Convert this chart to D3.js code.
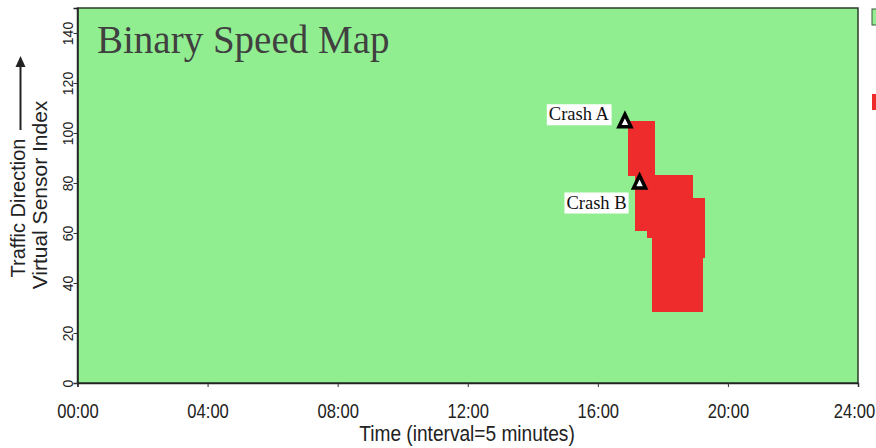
<!DOCTYPE html>
<html>
<head>
<meta charset="utf-8">
<script src="https://cdn.jsdelivr.net/npm/d3@7"></script>
<style>
  html, body { margin: 0; padding: 0; background: #fff; }
  svg { display: block; }
</style>
</head>
<body>
<div id="chart"></div>
<script>
// ========================
// DATA
// ========================
// congested (red) blocks, time in minutes since midnight, sensor index range
const blockStart = [1015, 1028, 1051, 1060, 1065, 1134, 1154];
const blockEnd   = [1028, 1051, 1060, 1065, 1134, 1154, 1157];
const blockLow   = [83,   61,   58,   28.5, 28.5, 28.5, 50];
const blockHigh  = [105,  105,  105,  105,  83.4, 74,   74];

const crashNames  = ["Crash A", "Crash B"];
const crashTime   = [1010, 1037];
const crashSensor = [104.7, 80.2];

const xTicks = [0, 4, 8, 12, 16, 20, 24];           // hours
const yTicks = [0, 20, 40, 60, 80, 100, 120, 140];

const legendColors = ["#90ee90", "#ee2c2c"];

// ========================
// LAYOUT
// ========================
const width = 876, height = 448;
const plot = { left: 77.5, right: 858, top: 8, bottom: 383 };
const SANS = "'Liberation Sans', Arial, sans-serif";
const SERIF = "'Liberation Serif', 'Times New Roman', serif";

const svg = d3.select("#chart").append("svg")
    .attr("width", width)
    .attr("height", height);

const x = d3.scaleLinear().domain([0, 1440]).range([plot.left, plot.right]);
const y = d3.scaleLinear().domain([0, 150]).range([plot.bottom, plot.top]);

// background (free flow)
svg.append("rect")
    .attr("x", plot.left).attr("y", plot.top)
    .attr("width", plot.right - plot.left)
    .attr("height", plot.bottom - plot.top)
    .attr("fill", "#90ee90");

// congested blocks
const blocks = blockStart.map((s, i) => ({ t0: s, t1: blockEnd[i], lo: blockLow[i], hi: blockHigh[i] }));
svg.append("g")
    .selectAll("rect")
    .data(blocks)
    .enter()
    .append("rect")
    .attr("x", d => x(d.t0))
    .attr("y", d => y(d.hi))
    .attr("width", d => x(d.t1) - x(d.t0) + 0.5)
    .attr("height", d => y(d.lo) - y(d.hi))
    .attr("fill", "#ee2c2c")
    .attr("shape-rendering", "crispEdges");

// frame
svg.append("rect")
    .attr("x", plot.left).attr("y", plot.top)
    .attr("width", plot.right - plot.left)
    .attr("height", plot.bottom - plot.top)
    .attr("fill", "none")
    .attr("stroke", "#2d3b2d")
    .attr("stroke-width", 1.5);

// title
svg.append("text")
    .attr("x", 97)
    .attr("y", 53)
    .attr("font-family", SERIF)
    .attr("font-size", "39px")
    .attr("fill", "#404040")
    .text("Binary Speed Map");

// ========================
// AXES
// ========================
const fmtHour = h => String(h).padStart(2, "0") + ":00";

const xAxis = svg.append("g")
    .attr("transform", `translate(0,${plot.bottom})`)
    .call(d3.axisBottom(x).tickValues(xTicks.map(h => h * 60)).tickFormat(m => fmtHour(m / 60)).tickSize(4));
xAxis.select(".domain").attr("stroke", "#222").attr("stroke-width", 1.5);
xAxis.selectAll(".tick line").attr("stroke", "#333");
// narrow-looking labels: squeeze horizontally; last one nudged to stay on the page
xAxis.selectAll(".tick text")
    .attr("y", 0)
    .attr("dy", 0)
    .attr("transform", (d, i, n) => `translate(${i === n.length - 1 ? -4 : 0},35) scale(0.85,1)`)
    .attr("font-family", SANS)
    .attr("font-size", "19.5px")
    .attr("fill", "#222");

const yAxis = svg.append("g")
    .attr("transform", `translate(${plot.left},0)`)
    .call(d3.axisLeft(y).tickValues(yTicks).tickSize(4));
yAxis.select(".domain").attr("stroke", "#222").attr("stroke-width", 1.5);
yAxis.selectAll(".tick line").attr("stroke", "#333");
yAxis.selectAll(".tick text")
    .attr("x", 0)
    .attr("dy", 0)
    .attr("transform", "translate(-5,0) rotate(-90)")
    .attr("text-anchor", "middle")
    .attr("font-family", SANS)
    .attr("font-size", "14px")
    .attr("fill", "#222");

// x axis title
svg.append("text")
    .attr("transform", "translate(467,441) scale(0.85,1)")
    .attr("text-anchor", "middle")
    .attr("font-family", SANS)
    .attr("font-size", "22.5px")
    .attr("fill", "#222")
    .text("Time (interval=5 minutes)");

// y axis titles (rotated)
svg.append("text")
    .attr("transform", "translate(25,208) rotate(-90)")
    .attr("text-anchor", "middle")
    .attr("font-family", SANS)
    .attr("font-size", "20px")
    .attr("fill", "#222")
    .text("Traffic Direction");

svg.append("text")
    .attr("transform", "translate(47,195) rotate(-90)")
    .attr("text-anchor", "middle")
    .attr("font-family", SANS)
    .attr("font-size", "21px")
    .attr("fill", "#222")
    .text("Virtual Sensor Index");

// direction arrow
svg.append("line")
    .attr("x1", 20.5).attr("y1", 130)
    .attr("x2", 20.5).attr("y2", 64)
    .attr("stroke", "#222")
    .attr("stroke-width", 2);
svg.append("path")
    .attr("d", "M20.5,56 L15.5,67 L25.5,67 Z")
    .attr("fill", "#222");

// ========================
// CRASH MARKERS
// ========================
const crashes = crashNames.map((n, i) => ({ name: n, t: crashTime[i], s: crashSensor[i] }));

// label right edge / baseline relative to marker
const labelOffsets = [
    { dx: -16, dy: -1 },
    { dx: -13, dy: 26 }
];

const crashG = svg.append("g");
crashes.forEach((c, i) => {
    const cx = x(c.t), cy = y(c.s);
    const off = labelOffsets[i];
    const label = crashG.append("text")
        .attr("x", cx + off.dx)
        .attr("y", cy + off.dy)
        .attr("text-anchor", "end")
        .attr("font-family", SERIF)
        .attr("font-size", "18.5px")
        .attr("fill", "#111")
        .text(c.name);
    const bb = label.node().getBBox();
    crashG.insert("rect", "text")
        .attr("x", bb.x - 2)
        .attr("y", bb.y)
        .attr("width", bb.width + 4)
        .attr("height", bb.height + 1)
        .attr("fill", "#fff");
    crashG.append("path")
        .attr("d", `M${cx},${cy - 7} L${cx + 6},${cy + 5.5} L${cx - 6},${cy + 5.5} Z`)
        .attr("fill", "#fff")
        .attr("stroke", "#000")
        .attr("stroke-width", 3.5)
        .attr("stroke-linejoin", "miter");
});

// ========================
// LEGEND (cut off at right edge)
// ========================
svg.append("g")
    .selectAll("rect")
    .data(legendColors)
    .enter()
    .append("rect")
    .attr("x", 872)
    .attr("y", (d, i) => 9 + i * 85)
    .attr("width", 14)
    .attr("height", 16)
    .attr("fill", d => d)
    .attr("stroke", (d, i) => i === 0 ? "#3a5a3a" : "none")
    .attr("stroke-width", 1);
</script>
</body>
</html>
